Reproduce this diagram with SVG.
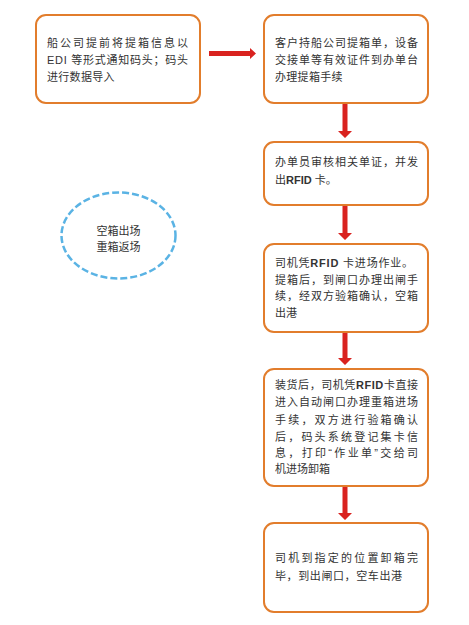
<svg xmlns="http://www.w3.org/2000/svg" width="469" height="625" viewBox="0 0 469 625">
<style>
.box{fill:#ffffff;stroke:#e27d2c;stroke-width:2}
.t{font-family:"Liberation Sans","Noto Sans CJK SC",sans-serif;font-size:11px;fill:#333333}
.arr{fill:#d9221f}
</style>
<rect x="0" y="0" width="469" height="625" fill="#ffffff"/>
<g id="connectors">
<polygon class="arr" points="209,51 250,51 250,48 256,53.5 250,59 250,56 209,56"/>
<polygon class="arr" points="342.5,104 347.5,104 347.5,131 352,131 345,138 338,131 342.5,131"/>
<polygon class="arr" points="342.5,206 347.5,206 347.5,233 352,233 345,240 338,233 342.5,233"/>
<polygon class="arr" points="342.5,333 347.5,333 347.5,358 352,358 345,365 338,358 342.5,358"/>
<polygon class="arr" points="342.5,487 347.5,487 347.5,513 352,513 345,520 338,513 342.5,513"/>
</g>
<g id="n1">
<rect class="box" x="36" y="15" width="164" height="88" rx="10"/>
<text class="t" x="47" y="47" textLength="141" lengthAdjust="spacing">船公司提前将提箱信息以</text>
<text class="t" x="47" y="64" textLength="141" lengthAdjust="spacing">EDI 等形式通知码头；码头</text>
<text class="t" x="47" y="81" letter-spacing="0.3">进行数据导入</text>
</g>
<g id="n2">
<rect class="box" x="264" y="15" width="164" height="88" rx="10"/>
<text class="t" x="275" y="47" textLength="143" lengthAdjust="spacing">客户持船公司提箱单，设备</text>
<text class="t" x="275" y="64" textLength="143" lengthAdjust="spacing">交接单等有效证件到办单台</text>
<text class="t" x="275" y="80.5" letter-spacing="0.3">办理提箱手续</text>
</g>
<g id="n3">
<rect class="box" x="264" y="142" width="164" height="63" rx="10"/>
<text class="t" x="275" y="166" textLength="143" lengthAdjust="spacing">办单员审核相关单证，并发</text>
<text class="t" x="275" y="184">出<tspan font-weight="bold">RFID</tspan> 卡。</text>
</g>
<g id="n4">
<rect class="box" x="264" y="244" width="164" height="88" rx="10"/>
<text class="t" x="275" y="267" textLength="138" lengthAdjust="spacing">司机凭<tspan font-weight="bold">RFID</tspan> 卡进场作业。</text>
<text class="t" x="275" y="284" textLength="143" lengthAdjust="spacing">提箱后，到闸口办理出闸手</text>
<text class="t" x="275" y="300" textLength="143" lengthAdjust="spacing">续，经双方验箱确认，空箱</text>
<text class="t" x="275" y="316.5">出港</text>
</g>
<g id="n5">
<rect class="box" x="264" y="369" width="164" height="117" rx="10"/>
<text class="t" x="275" y="389" textLength="143" lengthAdjust="spacing">装货后，司机凭<tspan font-weight="bold">RFID</tspan>卡直接</text>
<text class="t" x="275" y="406" textLength="143" lengthAdjust="spacing">进入自动闸口办理重箱进场</text>
<text class="t" x="275" y="423.5" textLength="143" lengthAdjust="spacing">手续，双方进行验箱确认</text>
<text class="t" x="275" y="440.5" textLength="143" lengthAdjust="spacing">后，码头系统登记集卡信</text>
<text class="t" x="275" y="457" textLength="143" lengthAdjust="spacing">息，打印“作业单”交给司</text>
<text class="t" x="275" y="473">机进场卸箱</text>
</g>
<g id="n6">
<rect class="box" x="264" y="523" width="164" height="89" rx="10"/>
<text class="t" x="275" y="562" textLength="143" lengthAdjust="spacing">司机到指定的位置卸箱完</text>
<text class="t" x="275" y="580" textLength="127" lengthAdjust="spacing">毕，到出闸口，空车出港</text>
</g>
<g id="n7">
<ellipse cx="118.5" cy="235.5" rx="57" ry="43" fill="none" stroke="#5ab3e4" stroke-width="2.5" stroke-dasharray="7,3"/>
<text class="t" x="118.5" y="235" text-anchor="middle">空箱出场</text>
<text class="t" x="118.5" y="251" text-anchor="middle">重箱返场</text>
</g>
</svg>
